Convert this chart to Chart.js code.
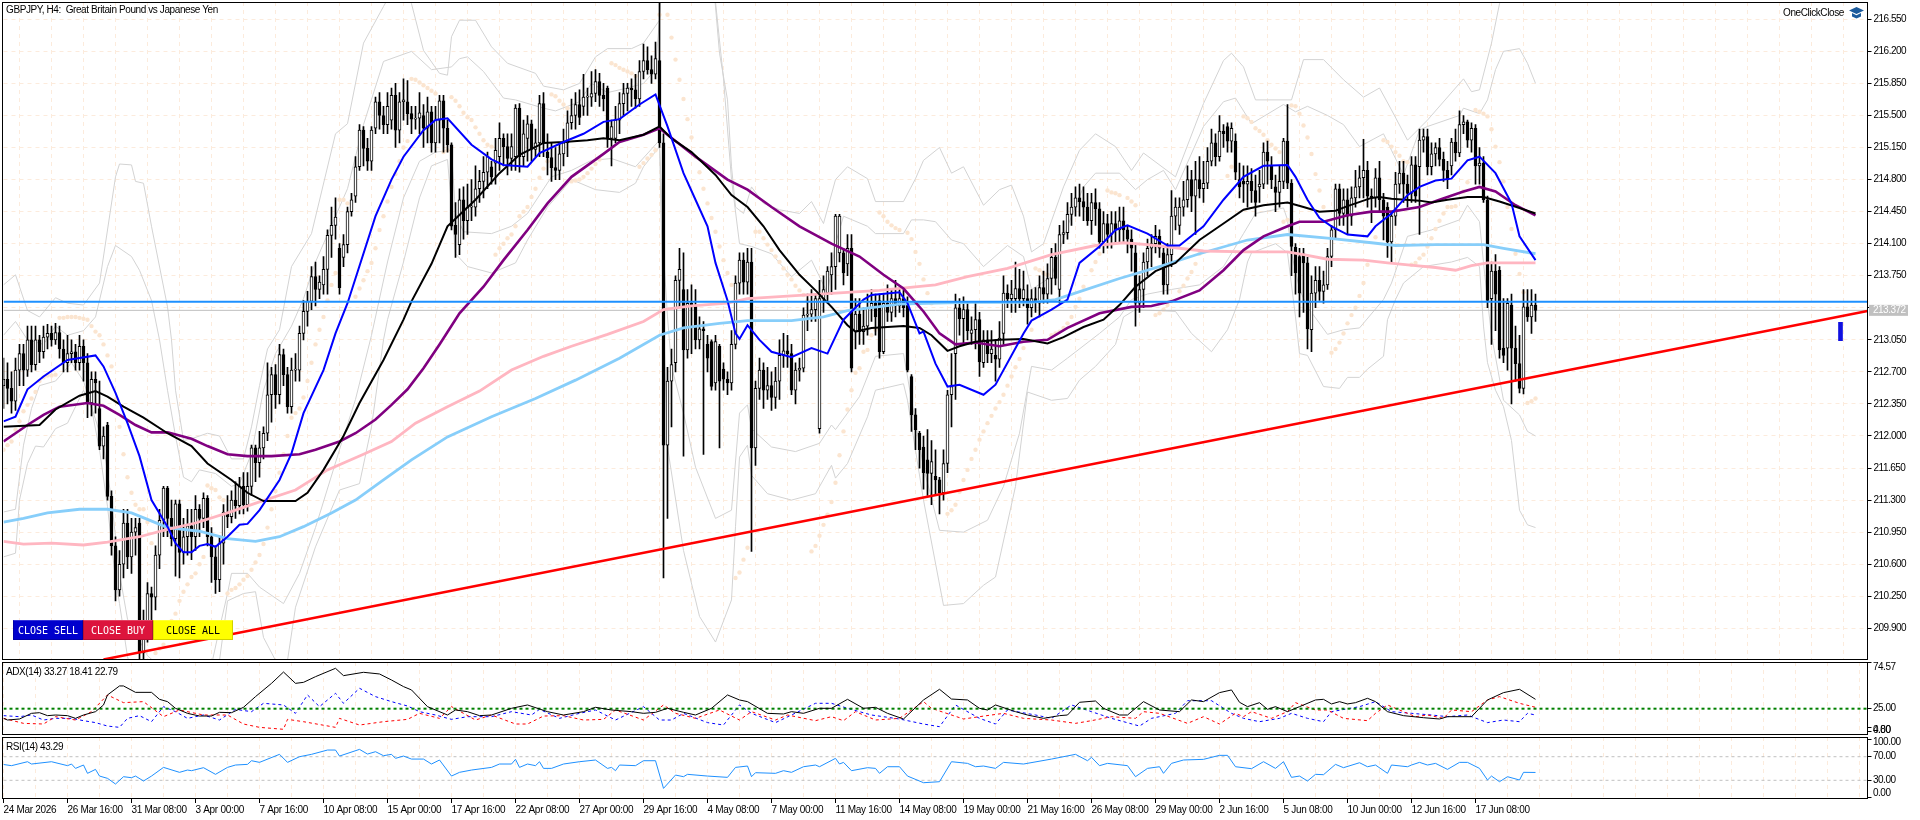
<!DOCTYPE html>
<html>
<head>
<meta charset="utf-8">
<title>GBPJPY, H4</title>
<script src="https://cdn.jsdelivr.net/npm/chart.js@4"></script>
<style>
  html, body { margin: 0; padding: 0; width: 1920px; height: 820px; background: #fff; overflow: hidden; }
  canvas { position: absolute; left: 0; }
  .txt { position: absolute; font-family: "Liberation Sans", Arial, sans-serif; font-size: 10px; line-height: 12px; letter-spacing: -0.4px; color: #000; white-space: pre; }
  .btn { position: absolute; top: 620px; height: 20px; line-height: 19px; text-align: center; font-family: "DejaVu Sans Mono", monospace; font-size: 10px; box-sizing: border-box; border: 1px solid rgba(0,0,0,0.18); border-top-color: rgba(255,255,255,0.2); }
</style>
</head>
<body>
<canvas id="mainChart" style="top:0" width="1920" height="661"></canvas>
<canvas id="adxChart" style="top:661px" width="1920" height="75"></canvas>
<canvas id="rsiChart" style="top:736px" width="1920" height="84"></canvas>

<div class="txt" style="left:6px;top:4px">GBPJPY, H4:  Great Britain Pound vs Japanese Yen</div>
<div class="txt" style="left:1783px;top:7px">OneClickClose</div>
<svg style="position:absolute;left:1849px;top:6px" width="15" height="14"><path d="M7.5 1 L15 4.5 L7.5 8 L0 4.5 Z M3 7 L7.5 9.2 L12 7 L12 10.5 L7.5 12.5 L3 10.5 Z" fill="#1c5b9c"/></svg>
<div class="txt" style="left:6px;top:666px">ADX(14) 33.27 18.41 22.79</div>
<div class="txt" style="left:6px;top:741px">RSI(14) 43.29</div>
<div class="btn" style="left:13px;width:70px;background:#0000cd;color:#fff">CLOSE SELL</div>
<div class="btn" style="left:83px;width:70px;background:#dc143c;color:#fff">CLOSE BUY</div>
<div class="btn" style="left:153px;width:80px;background:#ffff00;color:#000">CLOSE ALL</div>

<script>
const priceTicks = [216.55,216.2,215.85,215.5,215.15,214.8,214.45,214.1,213.75,213.4,213.05,212.7,212.35,212,211.65,211.3,210.95,210.6,210.25,209.9];
const tagCoveredTick = 213.4;
const dateLabels = ["24 Mar 2026","26 Mar 16:00","31 Mar 08:00","3 Apr 00:00","7 Apr 16:00","10 Apr 08:00","15 Apr 00:00","17 Apr 16:00","22 Apr 08:00","27 Apr 00:00","29 Apr 16:00","4 May 08:00","7 May 00:00","11 May 16:00","14 May 08:00","19 May 00:00","21 May 16:00","26 May 08:00","29 May 00:00","2 Jun 16:00","5 Jun 08:00","10 Jun 00:00","12 Jun 16:00","17 Jun 08:00"];
const gridBars = [0,8,16,24,32,40,48,56,64,72,80,88,96,104,112,120,128,136,144,152,160,168,176,184,192,200,208,216,224,232,240,248,256,264,272,280,288,296,304,312,320,328,336,344,352,360,368,376,384,392,400,408,416,424,432,440,448,456,464];

const opens = [
212.55,212.62,212.52,212.38,212.72,212.90,212.72,213.05,212.78,213.05,212.92,213.08,213.12,213.05,213.13,212.95,
212.80,212.90,212.92,212.80,212.98,212.80,212.36,212.62,212.30,211.89,212.12,211.34,210.80,210.32,210.60,211.05,
210.68,210.95,211.05,209.63,209.95,210.28,210.24,210.70,211.08,211.43,211.10,210.88,211.26,210.73,210.90,211.02,
210.90,211.20,211.10,211.32,210.90,210.68,210.43,210.83,211.17,211.12,211.30,211.24,211.45,211.25,211.45,211.87,
211.71,211.87,212.03,212.45,212.67,212.45,212.89,212.67,212.32,212.72,212.72,213.12,213.36,213.47,213.74,213.60,
213.65,213.82,214.19,214.30,214.05,213.95,214.09,214.45,214.62,214.94,215.34,215.14,215.00,215.36,215.65,215.50,
215.40,215.45,215.72,215.34,215.65,215.65,215.52,215.46,215.47,215.50,215.36,215.54,215.20,215.45,215.66,215.36,
215.18,214.30,214.09,214.58,214.35,214.50,214.50,214.70,214.78,214.88,214.94,214.98,215.05,215.25,215.16,215.03,
215.05,215.58,215.05,215.25,215.41,215.13,215.20,215.63,215.10,215.04,214.93,214.90,215.08,215.20,215.42,215.50,
215.62,215.60,215.70,215.70,215.74,215.87,215.72,215.80,215.25,215.25,215.45,215.63,215.74,215.80,215.78,215.68,
215.98,216.10,216.00,215.95,216.10,215.20,211.90,212.60,212.80,213.70,213.60,212.94,213.45,213.42,213.05,213.17,
213.00,213.03,212.58,212.98,212.73,212.62,212.58,213.00,213.67,213.92,213.68,213.90,211.87,212.52,212.72,212.50,
212.55,212.42,212.60,212.88,212.93,212.90,212.50,212.72,212.74,213.32,213.33,213.38,212.08,213.50,213.56,213.76,
213.85,214.00,214.00,213.88,214.05,213.14,213.33,213.14,213.20,213.40,213.45,213.48,212.92,213.45,213.35,213.50,
213.42,213.50,213.45,212.65,212.23,212.03,211.88,211.74,211.59,211.56,211.52,211.38,211.70,212.45,212.90,213.40,
213.28,213.38,213.12,213.16,213.27,212.80,213.05,212.90,212.88,212.84,213.12,213.56,213.50,213.50,213.61,213.50,
213.50,213.40,213.50,213.45,213.62,213.55,213.72,213.95,213.60,214.20,214.22,214.42,214.50,214.60,214.56,214.50,
214.35,214.55,214.48,214.12,214.32,214.20,214.32,214.25,214.35,214.25,214.15,214.00,213.45,213.60,213.90,214.05,
214.10,214.18,214.00,213.65,213.98,214.40,214.30,214.50,214.58,214.80,214.62,214.80,214.70,214.76,215.00,215.20,
215.05,215.33,215.38,215.22,215.22,214.80,214.78,214.75,214.78,214.68,214.72,214.75,215.10,214.95,214.72,214.66,
214.78,215.22,214.76,214.06,213.96,213.99,213.89,213.16,213.56,213.70,213.58,213.65,213.96,214.25,214.70,214.43,
214.58,214.40,214.60,214.72,214.82,214.90,214.62,214.60,214.82,214.58,214.50,214.12,214.40,214.75,214.87,214.75,
214.65,214.96,214.94,215.23,215.27,214.94,215.08,215.15,215.02,214.90,214.95,215.21,215.09,215.40,215.43,215.23,
215.36,214.95,214.98,214.58,213.50,213.80,213.81,212.96,212.96,213.43,212.96,212.79,212.52,213.41,213.30,213.43];
const highs = [
212.85,212.80,212.70,212.85,213.00,213.00,213.20,213.20,213.20,213.10,213.20,213.22,213.20,213.23,213.20,213.05,
213.10,213.05,213.00,213.10,213.05,212.90,212.70,212.70,212.60,212.10,212.15,211.40,210.90,210.75,211.20,211.20,
211.10,211.10,211.10,210.10,210.40,210.35,210.80,211.20,211.45,211.45,211.30,211.30,211.30,211.10,211.20,211.20,
211.35,211.25,211.38,211.35,211.00,210.80,210.90,211.25,211.35,211.40,211.50,211.55,211.60,211.60,211.90,211.90,
212.05,212.10,212.80,212.75,212.78,213.00,212.95,212.75,212.85,212.90,213.20,213.48,213.58,213.85,213.90,213.75,
213.96,214.25,214.50,214.60,214.10,214.20,214.50,214.65,215.05,215.40,215.38,215.25,215.38,215.70,215.75,215.60,
215.75,215.80,215.85,215.75,215.90,215.88,215.60,215.60,215.75,215.62,215.70,215.60,215.60,215.72,215.72,215.45,
215.20,214.55,214.70,214.72,214.75,214.80,214.95,214.90,215.05,215.10,215.00,215.25,215.42,215.30,215.30,215.30,
215.62,215.63,215.45,215.50,215.45,215.35,215.72,215.75,215.30,215.20,215.15,215.20,215.35,215.55,215.68,215.75,
215.78,215.95,215.80,215.98,216.00,215.96,215.85,215.82,215.45,215.60,215.75,215.85,215.85,215.90,215.95,216.10,
216.28,216.25,216.15,216.30,216.75,215.30,212.75,212.95,213.75,214.05,214.00,213.60,213.65,213.60,213.30,213.25,
213.10,213.05,213.10,213.00,212.80,212.70,213.15,213.75,214.00,214.00,214.05,214.05,212.60,212.85,212.80,212.75,
212.70,212.75,213.05,213.12,213.10,213.00,212.80,212.85,213.40,213.55,213.60,213.55,213.70,213.75,213.85,214.00,
214.42,214.42,214.05,214.20,214.20,213.50,213.50,213.40,213.55,213.60,213.55,213.55,213.55,213.65,213.60,213.70,
213.62,213.60,213.52,212.67,212.30,212.05,212.00,212.07,211.95,211.85,211.55,211.85,212.50,212.90,213.55,213.50,
213.52,213.45,213.30,213.45,213.35,213.15,213.15,213.15,213.05,213.25,213.75,213.65,213.70,213.90,213.82,213.80,
213.65,213.60,213.62,213.75,213.80,213.88,214.05,214.10,214.30,214.35,214.55,214.65,214.72,214.75,214.72,214.65,
214.65,214.70,214.55,214.45,214.42,214.45,214.45,214.50,214.50,214.30,214.25,214.10,213.75,214.00,214.15,214.20,
214.30,214.25,214.05,214.10,214.68,214.60,214.60,214.78,214.95,214.90,215.00,215.05,215.00,215.15,215.35,215.30,
215.50,215.40,215.42,215.42,215.30,214.98,214.95,214.95,214.92,214.85,214.90,215.20,215.22,215.05,214.85,214.95,
215.25,215.62,214.80,214.10,214.05,214.05,213.95,213.75,213.85,213.85,213.80,214.05,214.30,214.75,214.75,214.70,
214.70,214.72,214.90,214.95,215.24,215.00,214.70,214.92,215.00,214.65,214.55,214.45,214.88,215.00,215.00,214.85,
215.05,215.05,215.35,215.35,215.35,215.20,215.20,215.25,215.10,215.00,215.25,215.35,215.55,215.50,215.45,215.42,
215.40,215.15,215.05,214.62,213.90,213.98,213.85,213.50,213.50,213.55,213.20,213.10,213.60,213.60,213.60,213.55];
const lows = [
212.30,212.35,212.25,212.28,212.55,212.55,212.65,212.70,212.72,212.80,212.85,212.95,212.98,213.00,212.85,212.70,
212.70,212.80,212.72,212.72,212.60,212.20,212.22,212.25,211.85,211.75,211.30,210.70,210.20,210.25,210.45,210.55,
210.50,210.70,209.45,209.50,209.75,209.80,210.10,210.55,210.90,210.90,210.80,210.47,210.45,210.60,210.70,210.65,
210.75,210.90,211.00,210.80,210.40,210.28,210.30,210.60,211.00,211.05,211.10,211.15,211.15,211.18,211.35,211.50,
211.55,211.75,211.95,212.15,212.30,212.35,212.55,212.25,212.25,212.60,212.60,213.05,213.20,213.38,213.42,213.50,
213.55,213.55,213.95,214.15,213.55,213.85,214.00,214.40,214.55,214.90,214.95,214.90,214.90,215.30,215.35,215.30,
215.30,215.35,215.15,215.20,215.45,215.40,215.30,215.35,215.30,215.15,215.20,215.10,215.10,215.20,215.10,215.10,
214.25,213.95,213.98,214.15,214.20,214.35,214.40,214.55,214.60,214.70,214.75,214.75,214.90,214.95,214.85,214.90,
214.90,214.88,214.95,215.00,215.00,215.05,215.05,215.05,214.85,214.78,214.80,214.80,214.95,215.05,215.35,215.35,
215.40,215.50,215.50,215.60,215.65,215.60,215.55,215.15,214.95,215.20,215.30,215.50,215.55,215.60,215.58,215.60,
215.90,215.95,215.85,215.90,215.15,210.45,211.10,212.10,212.70,213.40,211.78,212.85,212.90,212.95,212.95,211.80,
212.70,212.50,212.50,211.87,212.50,212.45,212.50,212.95,213.55,213.55,213.55,210.74,211.68,212.40,212.30,212.40,
212.28,212.30,212.40,212.75,212.75,212.45,212.35,212.60,212.70,213.15,213.25,213.25,212.03,213.35,213.45,213.55,
213.60,213.90,213.65,213.75,212.70,212.95,213.00,213.00,213.10,213.25,213.10,212.85,212.90,213.25,213.25,213.30,
213.35,213.30,212.70,212.05,211.85,211.65,211.42,211.35,211.25,211.35,211.15,211.30,211.60,212.10,212.40,213.10,
213.00,213.05,213.00,212.95,212.65,212.75,212.80,212.80,212.60,212.75,213.00,213.40,213.35,213.35,213.40,213.42,
213.22,213.30,213.35,213.30,213.45,213.45,213.55,213.65,213.45,214.10,214.15,214.30,214.40,214.40,214.35,214.30,
214.20,214.30,214.05,214.00,214.05,214.05,214.10,214.10,214.10,214.00,213.80,213.20,213.35,213.40,213.75,213.85,
214.00,213.95,213.55,213.55,213.85,214.25,214.20,214.40,214.50,214.45,214.20,214.60,214.55,214.70,214.95,214.95,
215.00,215.15,215.10,215.10,214.80,214.60,214.55,214.50,214.55,214.40,214.55,214.70,214.75,214.70,214.45,214.50,
214.70,214.70,213.75,213.55,213.30,213.35,212.95,212.92,213.40,213.48,213.45,213.60,213.85,214.15,214.30,214.30,
214.20,214.30,214.50,214.60,214.60,214.50,214.33,214.50,214.45,214.14,213.95,213.90,214.30,214.65,214.55,214.50,
214.55,214.55,214.20,215.10,214.85,214.85,214.95,214.95,214.78,214.70,214.85,215.00,215.05,215.30,215.15,215.10,
214.75,214.75,214.55,213.40,213.00,213.15,212.85,212.80,212.72,212.35,212.60,212.47,212.46,213.25,213.12,213.25];
const closes = [
212.62,212.52,212.38,212.72,212.90,212.72,213.05,212.78,213.05,212.92,213.08,213.12,213.05,213.13,212.95,212.80,
212.90,212.92,212.80,212.98,212.80,212.36,212.62,212.58,211.89,212.00,211.34,210.80,210.32,210.60,211.05,210.68,
210.95,211.00,209.63,209.95,210.28,210.24,210.70,211.08,211.43,211.10,210.88,211.26,210.73,210.90,211.02,210.90,
211.20,211.10,211.32,210.90,210.68,210.43,210.83,211.17,211.12,211.30,211.24,211.45,211.25,211.45,211.87,211.71,
211.87,212.03,212.45,212.67,212.45,212.89,212.67,212.32,212.72,212.73,213.12,213.36,213.47,213.74,213.60,213.68,
213.82,214.19,214.30,214.39,213.62,214.09,214.45,214.58,214.94,215.34,215.14,215.00,215.34,215.65,215.50,215.40,
215.60,215.72,215.34,215.65,215.67,215.52,215.46,215.47,215.53,215.36,215.54,215.20,215.45,215.66,215.36,215.18,
214.29,214.20,214.58,214.35,214.50,214.50,214.70,214.78,214.88,215.05,214.83,215.12,215.25,215.16,215.03,215.16,
215.58,215.05,215.30,215.41,215.13,215.20,215.63,215.20,215.04,214.93,214.90,215.08,215.20,215.42,215.50,215.62,
215.48,215.70,215.71,215.74,215.87,215.72,215.68,215.25,215.38,215.45,215.63,215.74,215.80,215.78,215.68,215.98,
216.10,216.00,215.95,216.12,215.20,211.90,212.60,212.78,213.70,213.82,212.94,213.45,213.42,213.05,213.17,213.15,
212.85,212.54,213.03,212.60,212.62,212.58,213.00,213.67,213.92,213.68,213.90,211.87,212.52,212.72,212.50,212.55,
212.42,212.60,212.88,212.93,212.90,212.50,212.72,212.74,213.32,213.33,213.38,213.50,213.50,213.60,213.80,213.85,
214.40,214.40,213.78,214.05,212.74,213.33,213.14,213.20,213.40,213.45,213.30,212.92,213.45,213.35,213.50,213.42,
213.50,213.40,212.72,212.23,212.07,211.85,211.60,211.59,211.72,211.52,211.38,211.70,212.45,212.54,213.40,213.28,
213.38,213.15,213.16,213.27,212.81,213.05,212.90,212.95,212.84,213.07,213.56,213.50,213.55,213.61,213.50,213.60,
213.40,213.50,213.47,213.62,213.55,213.72,213.95,213.72,214.20,214.22,214.42,214.50,214.60,214.56,214.50,214.35,
214.55,214.48,214.12,214.32,214.20,214.32,214.25,214.35,214.25,214.15,214.05,213.45,213.60,213.90,214.05,214.10,
214.18,214.05,213.65,213.98,214.40,214.50,214.50,214.58,214.80,214.62,214.80,214.70,214.76,215.00,215.20,215.05,
215.33,215.30,215.22,215.36,214.88,214.72,214.75,214.78,214.68,214.55,214.75,215.10,215.00,214.80,214.66,214.78,
215.22,214.76,214.07,213.78,213.56,213.89,213.17,213.56,213.70,213.58,213.65,213.96,214.25,214.70,214.43,214.58,
214.40,214.60,214.72,214.82,214.90,214.62,214.60,214.82,214.58,214.40,214.12,214.40,214.75,214.87,214.75,214.65,
214.96,214.62,215.23,215.27,214.94,215.08,215.15,215.02,214.90,214.80,215.21,215.09,215.40,215.43,215.23,215.36,
214.95,214.98,214.58,213.48,213.80,213.55,212.94,212.88,213.45,212.96,212.79,212.52,213.41,213.30,213.43,213.372];

const blueBars = [0,3,6,10,16,23,25,28,31,34,37,41,43,45,47,49,51,53,56,59,61,64,69,72,75,80,83,86,93,97,100,105,108,111,117,122,125,131,134,140,145,150,154,159,163,166,170,173,176,178,181,183,184,186,189,192,197,202,206,210,215,217,224,226,229,230,233,236,239,245,248,255,257,262,266,269,274,278,281,286,291,294,300,305,310,315,321,323,326,329,332,336,341,343,347,351,354,358,362,366,369,373,377,379,383];
const blueValues = [212.16,212.21,212.51,212.65,212.83,212.88,212.76,212.47,212.14,211.78,211.30,211.01,210.83,210.73,210.73,210.80,210.82,210.79,210.90,211.03,211.04,211.19,211.52,211.81,212.25,212.72,213.12,213.45,214.40,214.80,215.05,215.34,215.45,215.47,215.18,215.02,214.96,214.94,215.09,215.21,215.30,215.43,215.46,215.62,215.73,215.38,214.87,214.58,214.29,213.89,213.48,213.12,213.06,213.21,213.05,212.92,212.86,212.96,212.90,213.27,213.49,213.54,213.57,213.45,213.12,213.14,212.79,212.54,212.56,212.45,212.56,213.12,213.26,213.38,213.49,213.89,214.07,214.25,214.30,214.21,214.08,214.08,214.29,214.58,214.83,214.95,214.96,214.83,214.58,214.38,214.29,214.20,214.18,214.29,214.43,214.63,214.72,214.79,214.81,215.01,215.05,214.87,214.54,214.18,213.92];
const blackBars = [0,9,13,19,23,26,30,35,41,47,51,57,61,65,73,76,80,85,89,95,100,102,107,111,118,124,129,135,140,146,150,154,160,164,167,172,178,182,186,190,194,199,203,207,211,213,217,225,229,232,236,239,243,249,255,261,265,270,275,279,283,288,293,299,305,310,315,321,325,329,333,336,342,344,347,354,357,361,366,370,374,379,383];
const blackValues = [212.10,212.12,212.29,212.44,212.49,212.43,212.32,212.20,212.03,211.89,211.70,211.52,211.38,211.29,211.29,211.38,211.63,212.00,212.36,212.83,213.27,213.47,213.88,214.29,214.58,214.87,215.07,215.20,215.21,215.23,215.25,215.23,215.29,215.38,215.25,215.10,214.85,214.63,214.50,214.29,214.03,213.76,213.59,213.41,213.21,213.14,213.18,213.20,213.18,213.10,212.93,212.98,213.03,213.05,213.06,213.01,213.08,213.19,213.27,213.43,213.63,213.80,213.89,214.14,214.32,214.47,214.52,214.55,214.50,214.45,214.46,214.51,214.60,214.61,214.59,214.57,214.55,214.58,214.61,214.61,214.56,214.49,214.43];
const purpleBars = [0,3,6,10,14,21,25,29,33,37,41,47,51,56,61,67,74,78,84,88,93,97,101,105,109,114,120,125,131,136,142,150,154,160,164,166,173,181,186,192,199,207,214,220,225,230,234,238,243,249,255,261,266,274,282,287,292,299,305,310,315,321,324,330,336,342,347,354,359,365,369,373,378,383];
const purpleValues = [211.94,212.03,212.12,212.23,212.32,212.36,212.33,212.23,212.12,212.04,212.04,211.97,211.89,211.80,211.78,211.78,211.80,211.85,211.94,212.03,212.18,212.34,212.51,212.74,213.00,213.34,213.63,213.92,214.25,214.54,214.83,215.08,215.21,215.29,215.36,215.29,215.05,214.80,214.69,214.50,214.29,214.10,213.96,213.76,213.61,213.36,213.12,213.00,213.02,212.98,213.03,213.05,213.18,213.34,213.41,213.42,213.47,213.59,213.81,214.03,214.18,214.29,214.34,214.34,214.41,214.45,214.45,214.50,214.58,214.67,214.72,214.67,214.52,214.41];
const pinkBars = [0,5,12,20,26,34,41,48,56,64,73,81,90,97,103,111,119,127,135,142,151,160,165,172,181,186,197,208,219,233,241,251,262,273,280,286,294,300,311,321,325,331,340,346,353,358,363,367,371,383];
const pinkValues = [210.85,210.82,210.83,210.81,210.84,210.90,210.98,211.05,211.16,211.28,211.41,211.63,211.80,211.94,212.14,212.32,212.49,212.72,212.87,212.98,213.11,213.25,213.38,213.42,213.45,213.50,213.53,213.56,213.59,213.65,213.74,213.83,213.98,214.08,214.11,214.09,214.05,214.02,214.01,214.01,213.98,213.93,213.92,213.89,213.86,213.84,213.81,213.86,213.89,213.89];
const skyBars = [0,5,11,19,26,32,36,41,49,56,63,69,75,82,88,95,102,111,122,133,143,154,164,170,179,186,197,205,211,224,233,242,257,263,270,279,289,299,311,321,331,342,348,358,370,375,383];
const skyValues = [211.06,211.10,211.16,211.20,211.20,211.16,211.09,211.00,210.96,210.88,210.85,210.90,211.01,211.16,211.30,211.52,211.74,211.99,212.21,212.41,212.61,212.85,213.10,213.18,213.23,213.26,213.26,213.30,213.37,213.44,213.45,213.46,213.46,213.49,213.59,213.72,213.85,213.99,214.14,214.20,214.16,214.11,214.08,214.09,214.09,214.05,213.99];

// bollinger bands
const outerUpBars = [0,3,6,9,13,16,20,24,28,29,32,33,35,37,41,42,43,45,47,51,54,57,60,62,64,66,69,72,77,83,86,90,95,99,102,105,109,111,112,114,118,122,126,133,135,140,144,148,151,157,160,164,165,170,177,179,181,182,183,185,187,190,194,199,202,205,208,211,216,218,225,228,230,234,237,240,245,249,252,255,257,260,265,269,273,278,282,285,293,300,305,307,310,313,322,325,330,335,340,344,347,351,356,365,367,369,372,374,383];
const outerUpValues = [213.65,213.76,213.37,213.30,213.51,213.45,213.43,213.67,214.83,214.97,214.96,214.78,214.76,214.29,213.41,213.05,212.50,211.95,211.97,212.03,212.00,211.75,211.75,212.10,212.55,212.95,213.16,213.85,214.21,215.30,215.41,216.29,216.69,217.00,216.72,216.21,215.96,215.94,216.36,216.54,216.54,216.25,216.07,215.96,215.82,215.78,215.85,216.14,216.23,216.23,216.29,216.54,217.50,218.50,217.20,216.18,215.67,214.94,214.50,214.43,214.72,214.54,214.47,214.43,214.56,214.32,214.80,214.94,214.81,214.56,214.56,214.81,215.01,215.15,214.87,214.94,214.52,214.69,214.74,214.40,214.01,214.10,214.72,215.12,215.30,215.16,214.90,215.09,214.83,215.63,216.10,216.18,216.03,215.67,215.67,216.11,216.11,215.89,215.70,215.80,215.56,215.23,215.45,215.90,215.76,215.78,216.29,216.72,217.60];
const innerUpBars = [0,3,6,10,13,16,20,23,26,28,32,34,37,39,41,43,45,47,49,53,57,59,62,65,68,72,75,78,82,86,90,95,102,107,112,114,116,120,125,128,135,138,144,147,151,156,160,163,164,165,170,178,180,182,184,187,192,197,202,206,208,210,216,218,225,227,230,233,237,240,245,251,255,257,262,266,270,273,279,283,286,290,293,300,305,308,312,320,323,326,331,335,339,345,347,350,354,356,364,365,369,371,373,375,379,381,383];
const innerUpValues = [213.10,213.25,213.05,213.00,213.20,213.10,213.15,213.30,213.85,214.08,213.96,213.81,213.48,213.05,212.50,212.00,211.55,211.50,211.63,211.59,211.45,211.48,211.81,212.50,212.90,213.20,213.50,213.90,214.30,214.70,215.40,216.09,216.20,216.00,216.03,216.12,216.14,215.98,215.69,215.67,215.58,215.55,215.65,215.85,215.75,215.80,215.85,216.00,216.55,217.20,217.60,216.74,215.90,214.80,214.10,214.07,213.99,213.74,213.92,213.56,214.10,214.40,214.29,214.21,214.21,214.36,214.36,214.34,214.14,214.10,213.85,214.08,213.96,213.60,213.74,214.29,214.72,214.87,214.87,214.69,214.80,214.90,214.69,215.38,215.65,215.69,215.41,215.62,215.54,215.60,215.50,215.40,215.16,215.30,215.12,214.85,215.34,215.38,215.50,215.58,215.52,215.67,216.00,216.20,216.23,216.07,215.85];
const innerLowBars = [0,3,5,7,9,13,17,20,25,27,29,31,33,36,40,44,48,52,54,56,57,61,64,70,74,78,84,88,92,96,100,104,108,112,113,115,122,127,131,137,142,147,152,158,164,165,166,167,170,173,178,182,184,186,187,192,198,204,207,208,214,218,225,227,230,234,240,246,250,254,257,262,266,274,279,282,286,292,299,305,310,313,320,321,322,324,326,331,335,339,345,347,351,357,364,366,369,370,371,372,375,379,381,383];
const innerLowValues = [211.17,211.20,211.90,212.30,212.55,212.60,212.80,212.60,211.90,211.30,210.50,210.00,209.85,209.60,209.45,209.40,209.45,209.50,209.90,210.28,210.50,210.50,210.35,210.17,210.50,211.00,211.85,212.40,213.10,213.90,214.60,215.00,215.10,215.12,214.43,214.23,214.21,214.29,214.43,214.83,214.90,215.01,215.03,214.94,215.23,214.00,213.30,212.76,212.25,211.66,211.10,211.19,212.25,212.34,212.08,211.88,211.83,211.92,212.12,212.07,212.43,212.87,212.90,212.39,211.66,210.97,210.95,211.08,211.45,212.03,212.76,212.72,212.85,213.12,213.30,213.49,213.55,213.60,213.65,213.85,214.21,214.43,214.49,214.36,214.00,213.60,213.41,213.11,213.16,213.18,213.49,213.67,214.18,214.25,214.36,214.52,214.34,213.89,213.48,213.10,212.39,212.23,212.05,212.00];
const outerLowBars = [0,3,4,6,8,10,13,16,20,22,24,26,28,29,31,35,40,45,50,54,56,60,63,65,68,71,73,78,84,89,92,95,96,100,104,107,111,113,116,122,128,131,136,142,148,154,158,160,164,165,166,170,174,178,182,183,184,186,187,191,197,203,207,208,211,216,218,225,226,230,235,240,245,248,253,256,262,266,269,273,278,280,283,293,297,302,306,309,311,312,318,321,323,324,326,330,334,336,339,341,345,346,348,350,355,362,366,369,370,371,373,375,377,379,381,383];
const outerLowValues = [210.68,210.72,211.30,211.70,211.89,211.88,212.08,212.14,212.50,212.30,211.85,211.23,210.43,210.17,209.59,209.00,208.80,208.90,209.10,209.55,210.20,210.28,210.30,209.80,209.55,209.55,210.13,210.79,211.41,211.48,212.10,213.05,213.27,213.90,214.60,214.95,215.02,213.99,213.85,213.78,213.89,214.14,214.50,214.80,214.69,214.66,214.76,214.94,215.16,213.30,211.88,210.75,210.03,209.75,210.21,211.01,211.77,211.90,211.57,211.37,211.30,211.37,211.68,211.54,211.70,212.21,212.50,212.57,212.39,211.30,210.15,210.17,210.37,210.46,211.45,212.48,212.39,212.41,212.61,212.76,213.00,213.30,213.38,213.36,213.12,212.92,213.16,213.49,213.90,214.00,214.10,214.00,213.30,212.90,212.88,212.54,212.52,212.64,212.64,212.73,212.87,213.27,213.49,213.67,213.85,213.90,213.95,213.85,213.20,212.80,212.50,212.32,211.95,211.19,211.03,211.00];

// parabolic sar dots
const sarBars = [0,1,2,3,4,5,6,7,8,9,10,11,12,13,14,15,16,17,18,19,20,21,22,23,24,25,26,27,28,29,30,31,32,33,34,35,36,37,38,39,40,41,42,43,44,45,46,47,48,49,50,51,52,53,54,55,56,57,58,59,60,61,62,63,64,65,66,67,68,69,70,71,72,73,74,75,76,77,78,79,80,81,82,83,84,85,86,88,89,90,91,92,93,94,95,96,97,98,99,100,101,102,103,104,105,106,107,108,110,111,112,113,114,115,116,117,118,119,120,121,122,123,124,125,126,127,128,129,130,131,132,133,134,135,136,137,138,139,140,141,142,143,144,145,146,147,148,149,152,153,154,155,156,157,158,159,160,161,162,163,164,166,167,168,169,170,171,172,173,174,175,176,177,178,179,180,181,182,183,184,185,186,188,189,190,191,192,193,194,195,196,197,198,199,200,201,202,203,204,205,206,207,208,209,210,211,212,213,214,215,216,217,218,219,220,221,222,223,224,226,227,228,229,230,231,232,236,237,238,239,240,241,242,243,244,245,246,247,248,249,250,251,252,253,254,255,257,258,259,260,261,262,263,264,265,266,267,268,269,270,272,273,274,276,277,278,279,281,282,283,288,289,290,291,292,294,295,296,297,298,299,306,307,310,311,312,313,314,315,316,317,318,319,320,321,322,323,324,325,326,327,328,329,330,332,333,334,335,336,337,338,339,340,341,343,345,346,347,348,349,350,351,352,353,354,355,356,357,358,359,360,361,362,363,365,366,368,369,370,371,372,373,374,375,376,377,378,379,380,381,382,383];
const sarValues = [211.85,211.90,211.94,212.07,212.16,212.27,212.34,212.41,212.48,212.60,212.64,212.66,212.66,212.67,213.29,213.29,213.30,213.30,213.30,213.29,213.28,213.27,213.20,213.14,213.10,213.00,212.88,212.76,212.40,212.10,211.80,211.55,211.38,211.25,211.20,211.20,211.06,210.83,209.63,209.68,209.72,209.80,209.98,210.06,210.20,210.30,210.38,210.46,210.50,210.60,210.68,211.46,211.43,211.41,211.33,211.30,210.28,210.32,210.34,210.38,210.43,210.47,210.54,210.62,210.70,210.82,211.00,211.20,211.40,211.60,211.80,212.00,212.20,212.25,212.30,212.42,212.60,212.80,213.00,213.16,213.30,213.48,213.65,213.78,214.58,214.58,214.54,213.52,213.61,213.70,213.80,213.89,214.05,214.25,214.40,214.56,214.72,214.86,215.00,215.15,215.22,215.90,215.89,215.86,215.83,215.80,215.77,215.74,215.10,215.12,215.70,215.66,215.60,215.53,215.48,215.45,215.37,215.30,215.23,215.18,215.16,213.98,214.05,214.10,214.16,214.20,214.29,214.40,214.45,214.50,214.61,214.70,214.82,214.92,215.00,215.73,215.71,215.66,215.62,215.58,214.78,214.79,214.80,214.83,214.87,214.92,214.97,215.02,216.07,216.05,216.02,216.00,215.98,215.96,215.93,214.94,214.98,215.03,215.07,215.12,216.60,216.60,216.35,216.11,215.89,215.68,215.46,215.26,215.05,214.88,214.70,214.54,214.38,214.23,214.07,213.92,213.78,213.65,210.45,210.51,210.65,210.78,214.23,214.23,214.16,214.09,214.03,213.96,213.90,213.83,213.76,213.71,213.64,213.59,213.54,213.48,210.74,210.80,210.91,211.03,211.14,211.28,211.49,211.79,212.05,212.29,212.50,212.69,212.74,212.92,212.94,213.10,213.16,214.44,214.40,214.34,214.30,214.27,214.25,214.22,214.15,214.01,213.88,213.71,213.56,213.45,211.15,211.19,211.25,211.39,211.52,211.63,211.75,211.85,211.96,212.05,212.14,212.22,212.30,212.37,212.45,212.55,212.65,212.75,212.84,212.96,213.16,213.83,213.81,213.78,213.76,213.10,213.12,213.14,213.18,213.23,213.30,213.41,213.50,213.63,213.81,213.90,213.99,214.68,214.66,214.65,214.63,214.60,214.56,214.52,213.32,213.34,213.38,213.43,213.47,213.58,213.64,213.72,213.79,213.88,213.99,214.84,214.94,215.49,215.47,215.43,215.36,215.33,215.29,215.23,215.18,215.14,215.10,214.34,214.36,215.61,215.60,215.52,215.39,215.26,215.08,214.86,214.68,214.50,212.91,212.95,213.02,213.12,213.23,213.32,213.40,213.53,213.67,213.87,214.17,215.23,215.21,215.16,215.10,215.06,215.00,214.99,213.87,213.89,213.94,213.98,214.07,214.16,214.26,214.35,214.43,214.50,214.50,214.51,214.67,214.77,215.56,215.54,215.52,215.49,215.35,215.16,214.99,214.78,214.50,214.26,213.99,213.77,213.57,212.36,212.38,212.41];

const askLevel = 213.466;
const bidLevel = 213.372;
const levelBars = [0,466];
const trendBars = [25,466];
const trendPrices = [209.56,213.365];
const markBar = 459.25;
const markRange = [213.04,213.24];

const adxBars = [0,1,4,7,9,11,13,16,18,20,23,25,26,29,30,33,37,39,41,43,46,49,52,54,57,60,63,67,70,73,75,78,83,85,90,94,97,100,102,106,111,113,116,119,122,127,131,136,140,145,148,152,157,160,163,166,170,173,177,181,184,186,191,195,197,200,204,207,211,215,218,221,225,230,234,237,241,244,246,248,253,256,260,264,266,269,273,275,279,281,285,289,294,297,300,304,307,309,311,314,316,318,321,324,328,330,332,334,336,338,341,343,346,350,355,359,361,367,371,375,379,383];
const adxValues = [14.6,12.8,13.9,20,20.7,17.5,18.2,17.5,14.6,18.2,21.8,29,39.8,49.5,49.5,42.6,42.6,35.1,32.6,25.4,20,17.1,17.1,21.1,20.7,26.5,38,52.3,64.5,52.3,53.4,59.5,68.5,60.6,64.2,62.4,55.9,48.8,45.2,27.2,18.2,23.6,21.8,17.5,18.2,25.4,29,21.8,18.2,21.8,26.5,23.6,21.8,20,21.1,25.4,21.1,18.2,25.4,39.8,34.4,32.6,20,19.3,21.8,20,25.4,25.4,35.1,25.4,26.5,20,13.9,34.4,45.9,35.4,34.4,25.4,23.6,29,21.8,18.2,14.6,17.5,18.2,31.9,33.3,25.4,18.2,18.2,32.6,23.6,21.8,34.4,32.6,42.3,45.2,31.9,27.2,31.5,24.3,27.2,21.8,27.2,34.4,35.1,30.1,32.6,30.1,31.5,36.2,32.6,21.8,17.5,15.3,13.9,16.4,16.4,34.4,42.3,45.9,35.1];
const minusBars = [0,4,7,10,13,17,20,23,26,29,31,34,37,40,43,46,50,54,58,62,65,70,73,76,79,83,85,89,93,97,101,104,108,112,116,122,127,132,134,139,144,148,153,160,164,167,170,176,180,184,187,193,197,203,207,211,217,224,230,234,238,244,248,251,258,262,267,272,277,284,287,293,296,302,307,310,314,319,322,326,330,332,339,343,347,352,357,361,366,371,375,379,381,383];
const minusValues = [17.5,16.4,18.2,12.8,14.6,14.6,12.1,10,6.3,4.9,14.6,17.5,11,27.2,21.8,14.6,18.2,12.8,24.3,21.8,30.8,29,20,39.8,27.2,41.6,30.8,47,38,32.6,27.9,21.8,18.2,13.5,16.4,16.4,21.8,18.2,24.3,14.6,20,23.6,12.8,27.2,12.8,12.8,20,10,7.4,29,20,10,18.2,30.8,30.8,25.4,18.2,13.9,8.5,5.6,29,14.6,8.5,23.6,18.2,14.6,29,21.8,14.6,6.3,14.6,20,33.6,33.6,20,14.6,11,14.6,20,14.6,11,21.8,27.2,32.6,21.8,20,18.2,16.4,18.2,10,12.8,11,20,18.2];
const plusBars = [0,5,10,13,18,22,26,30,35,40,44,50,56,60,64,70,71,75,83,84,89,95,101,104,109,112,118,122,128,131,135,140,145,150,153,160,165,168,173,179,184,187,193,196,203,207,210,213,218,224,230,232,240,244,250,255,262,268,272,277,283,285,289,296,300,304,308,310,312,317,321,323,328,331,335,341,343,346,353,356,360,362,367,371,374,379,383];
const plusValues = [14.6,9.2,8.5,16.4,12.8,21.8,39.8,31.5,32.6,16.4,23.6,18.2,18.2,8.5,4.9,2.8,13.5,11,4.9,14.6,7.4,11,13.5,20,14.6,27.2,12.8,18.2,8.5,8.5,17.1,17.5,12.8,13.5,23.6,12.8,29,20,14.6,23.6,12.8,21.8,12.8,18.2,12.1,16.4,12.1,21.8,12.8,14.6,32.6,25.4,13.9,16.4,20,14.6,12.8,9.2,12.1,16.4,14.6,21.8,20,9.2,16.4,8.5,20,16.4,21.8,14.6,21.8,31.5,23.6,23.6,14.6,12.1,20,29,16.4,18.2,14.6,23.6,21.8,34.4,38,30.8,26.5];
const adxLevel = 25;
const adxAxisLabels = [74.57,25,4.8,0];
const adxLabelShift = [4.6,0,2.6,-1.9];

const rsiBars = [0,2,6,7,12,16,17,18,20,21,23,24,26,28,30,32,33,35,37,40,44,46,47,50,53,56,58,61,62,64,69,71,74,77,81,83,84,89,91,93,95,97,98,100,102,105,107,109,112,114,117,122,124,127,128,129,131,133,134,135,137,140,144,148,151,152,153,154,158,160,163,165,168,170,171,176,181,183,186,187,188,193,195,197,200,203,204,208,209,210,212,216,218,219,221,224,226,230,234,237,241,243,245,248,250,255,262,268,271,272,274,276,281,283,286,289,290,292,295,300,304,306,308,312,315,318,320,322,324,326,328,330,333,335,339,341,343,346,347,351,352,354,356,358,361,364,366,369,371,372,374,376,379,380,383];
const rsiValues = [56.8,54.8,61.5,57.6,61.5,54.8,57.6,50.2,55.9,41.8,48.5,37.2,33.3,23.7,36.1,34.4,37.2,28.8,37.2,51.9,43.5,47.4,46.3,51.4,40.1,51.9,55.9,57,63.2,60.4,74,60.4,70,74,81.3,81.3,71.1,82.4,74.5,78.5,71.7,74,67.2,71.1,66,66,57.6,64.4,37.2,43.5,47.4,51.9,57.6,57.6,65.5,51.9,57.6,54.8,61.5,50.2,50.2,57.6,61.5,64.4,50.2,51.9,46.3,55.9,54.8,63.2,63.2,16.3,38.9,36.1,40.1,37.2,35,51.9,54.2,36.1,42.9,41.8,46.3,43.5,53,55.9,53,67.2,57.6,60.4,46.3,51.4,50.2,41.8,53,53,37.2,25.9,27.6,61.5,58.7,53,54.2,50.2,60.4,57.6,66,74,63.2,68.9,54.8,58.7,54.8,36.1,50.2,53,41.8,58.7,64.4,65.5,72.3,72.3,53,49.7,61.5,50.2,61.5,35,37.2,28.8,40.1,39.5,57,51.4,59.8,53,55.9,41.8,55.9,53,55.9,60.4,55.9,58.7,48.5,60.4,60.4,50.2,30.5,37.2,27.6,36.1,30.5,43.5,43.29];
const rsiLevels = [70,30];
const rsiAxisLabels = [100,70,30,0];
const rsiLabelShift = [3.3,0,0,-4.7];

const axisFont = { family: '"Liberation Sans", sans-serif', size: 10 };
const gridColor = "#fcebdc";
const lastLabelBar = 368;

const pairs = (xs, ys) => xs.map((x, i) => ({ x: x, y: ys[i] }));

function lineSet(xs, ys, color, width, order, dash) {
  return {
    type: "line",
    data: pairs(xs, ys),
    borderColor: color,
    borderWidth: width,
    borderDash: dash || [],
    pointRadius: 0,
    tension: 0,
    order: order,
  };
}

// black frame around one pane
const paneFrame = {
  id: "paneFrame",
  beforeDraw(chart) {
    chart.ctx.letterSpacing = chart.canvas.id === "mainChart" ? "-0.5px" : "-0.3px";
  },
  afterDraw(chart) {
    const a = chart.chartArea;
    const c = chart.ctx;
    c.save();
    c.strokeStyle = "#000";
    c.lineWidth = 1;
    c.strokeRect(2.5, a.top + 0.5, 1865, a.bottom - a.top - 1);
    c.restore();
  },
};

function axisLabelPlugin(values, shifts) {
  return {
    id: "axisLabels",
    afterDraw(chart) {
      const c = chart.ctx;
      c.save();
      c.letterSpacing = "-0.5px";
      c.font = `${axisFont.size}px ${axisFont.family}`;
      c.fillStyle = "#000";
      c.textBaseline = "middle";
      values.forEach((v, i) => {
        c.fillText(v.toFixed(2), 1873, chart.scales.y.getPixelForValue(v) + shifts[i]);
      });
      c.restore();
    },
  };
}

const priceTag = {
  id: "priceTag",
  afterDraw(chart) {
    const c = chart.ctx;
    const y = chart.scales.y.getPixelForValue(bidLevel);
    c.save();
    c.fillStyle = "#c0c0c0";
    c.fillRect(1869, y - 5.5, 39, 11);
    c.font = `${axisFont.size}px ${axisFont.family}`;
    c.fillStyle = "#fff";
    c.textBaseline = "middle";
    c.fillText(bidLevel.toFixed(3), 1873, y);
    c.restore();
  },
};

// tick labels must not push the pane edges in
function noScalePadding(s) {
  s.paddingTop = 0;
  s.paddingBottom = 0;
  s.paddingLeft = 0;
  s.paddingRight = 0;
}

function xScale(withLabels) {
  return {
    type: "linear",
    bounds: "data",
    min: 0,
    max: 466,
    offset: false,
    afterBuildTicks: (s) => { s.ticks = gridBars.map((v) => ({ value: v })); },
    afterFit: (s) => { s.height = withLabels ? 20 : 0; noScalePadding(s); },
    border: { display: false, dash: [4, 4] },
    grid: {
      color: gridColor,
      drawTicks: withLabels,
      tickLength: 4,
      tickColor: (ctx) => (ctx.tick && ctx.tick.value % 16 === 0 && ctx.tick.value <= lastLabelBar ? "#000" : "rgba(0,0,0,0)"),
    },
    ticks: {
      display: withLabels,
      autoSkip: false,
      maxRotation: 0,
      align: "start",
      padding: 1,
      color: "#000",
      font: axisFont,
      callback: (v) => (v % 16 === 0 && dateLabels[v / 16] ? dateLabels[v / 16] : ""),
    },
  };
}

function yScale(min, max, tickValues, onArea) {
  return {
    type: "linear",
    bounds: "data",
    position: "right",
    min: min,
    max: max,
    afterBuildTicks: (s) => { s.ticks = tickValues.map((v) => ({ value: v })); },
    afterFit: (s) => { s.width = 52.5; noScalePadding(s); },
    border: { display: false, dash: [4, 4] },
    grid: { color: gridColor, drawOnChartArea: onArea, tickLength: 4, tickColor: "#000" },
    ticks: {
      display: onArea,
      padding: 2,
      color: "#000",
      font: axisFont,
      autoSkip: false,
      callback: (v) => (v === tagCoveredTick ? "" : v.toFixed(3)),
    },
  };
}

function baseOptions(pad, withLabels, y) {
  return {
    responsive: false,
    animation: false,
    devicePixelRatio: 1,
    layout: { autoPadding: false, padding: pad },
    plugins: { legend: { display: false }, tooltip: { enabled: false } },
    events: [],
    scales: { x: xScale(withLabels), y: y },
  };
}

new Chart(document.getElementById("mainChart").getContext("2d"), {
  type: "line",
  data: {
    datasets: [
      lineSet(trendBars, trendPrices, "#ff0000", 2.6, 1),
      lineSet(levelBars, [askLevel, askLevel], "#1e90ff", 2, 2),
      lineSet(blueBars, blueValues, "#0000ff", 2, 3),
      lineSet(blackBars, blackValues, "#000000", 2, 4),
      lineSet(purpleBars, purpleValues, "#800080", 2.6, 5),
      lineSet(pinkBars, pinkValues, "#ffb6c1", 2.8, 6),
      lineSet(skyBars, skyValues, "#87cefa", 2.8, 7),
      {
        type: "bar",
        grouped: false,
        data: [{ x: markBar, y: markRange }],
        backgroundColor: "#1010e0",
        barThickness: 4,
        order: 8,
      },
      {
        type: "bar",
        grouped: false,
        data: opens.map((o, i) => ({ x: i, y: [o, closes[i]] })),
        backgroundColor: opens.map((o, i) => (closes[i] >= o ? "#ffffff" : "#000000")),
        borderColor: "#000000",
        borderWidth: 1,
        borderSkipped: false,
        barThickness: 3,
        minBarLength: 1,
        order: 9,
      },
      {
        type: "bar",
        grouped: false,
        data: highs.map((h, i) => ({ x: i, y: [lows[i], h] })),
        backgroundColor: "#000000",
        barThickness: 1,
        order: 10,
      },
      lineSet(levelBars, [bidLevel, bidLevel], "#c0c0c0", 1, 11),
      {
        type: "line",
        data: pairs(sarBars, sarValues),
        showLine: false,
        pointRadius: 2.2,
        pointBorderWidth: 0,
        pointBackgroundColor: "#fbe5d0",
        order: 12,
      },
      lineSet(outerUpBars, outerUpValues, "#d3d3d3", 1, 13),
      lineSet(innerUpBars, innerUpValues, "#d3d3d3", 1, 13),
      lineSet(innerLowBars, innerLowValues, "#d3d3d3", 1, 13),
      lineSet(outerLowBars, outerLowValues, "#d3d3d3", 1, 13),
    ],
  },
  options: baseOptions({ left: 3.5, top: 2, right: 0, bottom: 1 }, false, yScale(209.554, 216.739, priceTicks, true)),
  plugins: [paneFrame, priceTag],
});

new Chart(document.getElementById("adxChart").getContext("2d"), {
  type: "line",
  data: {
    datasets: [
      lineSet(adxBars, adxValues, "#000000", 1, 1),
      lineSet(levelBars, [adxLevel, adxLevel], "#008000", 2, 2, [3, 3]),
      lineSet(plusBars, plusValues, "#ff0000", 1, 3, [3, 3]),
      lineSet(minusBars, minusValues, "#0000ff", 1, 4, [3, 3]),
    ],
  },
  options: baseOptions({ left: 3.5, top: 1, right: 0, bottom: 1 }, false, yScale(-3.34, 75.3, adxAxisLabels, false)),
  plugins: [paneFrame, axisLabelPlugin(adxAxisLabels, adxLabelShift)],
});

new Chart(document.getElementById("rsiChart").getContext("2d"), {
  type: "line",
  data: {
    datasets: [
      lineSet(rsiBars, rsiValues, "#1e90ff", 1, 1),
      lineSet(levelBars, [rsiLevels[0], rsiLevels[0]], "#c0c0c0", 1, 2, [3, 3]),
      lineSet(levelBars, [rsiLevels[1], rsiLevels[1]], "#c0c0c0", 1, 2, [3, 3]),
    ],
  },
  options: baseOptions({ left: 3.5, top: 1, right: 0, bottom: 1 }, true, yScale(-1.7, 103.4, rsiAxisLabels, false)),
  plugins: [paneFrame, axisLabelPlugin(rsiAxisLabels, rsiLabelShift)],
});
</script>
</body>
</html>
